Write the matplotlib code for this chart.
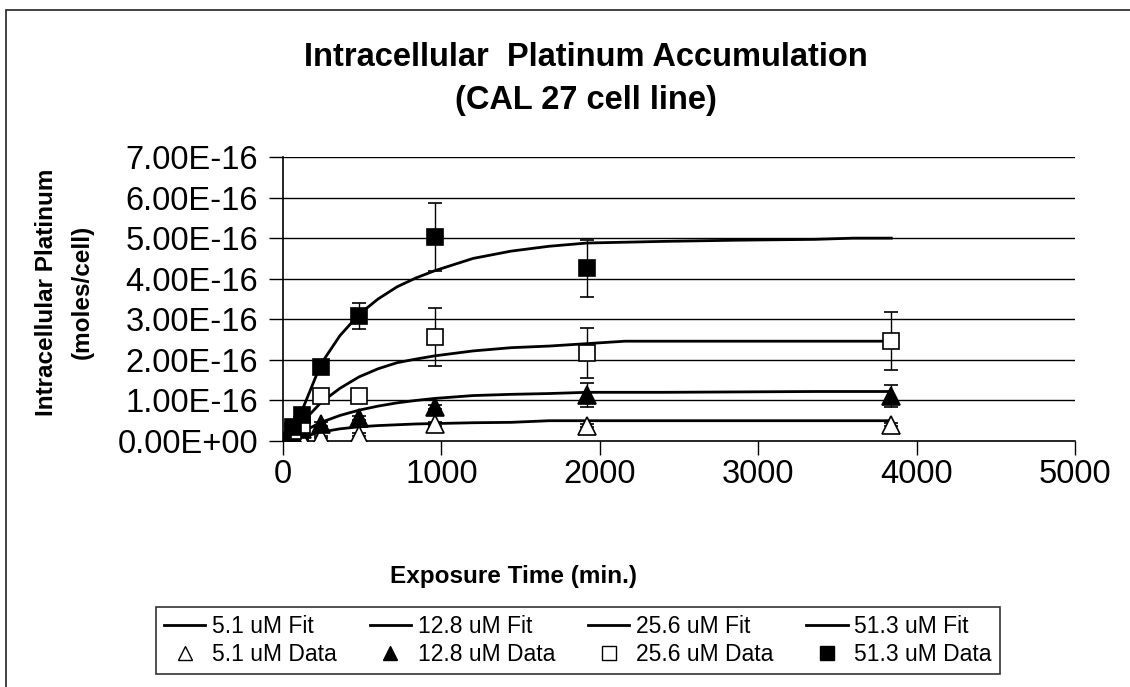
import matplotlib
matplotlib.use("Agg")
import matplotlib.pyplot as plt
from matplotlib.lines import Line2D
from matplotlib.patches import Rectangle

plt.rcParams['font.family'] = ['Liberation Sans', 'DejaVu Sans']

UNIT = 1e-16  # values below are in units of 1e-16 moles/cell

# Measured accumulation (mean and error) at each exposure time (min.)
t_data = [0, 60, 120, 240, 480, 960, 1920, 3840]
d_5_1 = [0, 0.02, 0.04, 0.10, 0.16, 0.42, 0.38, 0.40]
e_5_1 = [0, 0.01, 0.01, 0.02, 0.03, 0.04, 0.04, 0.04]
d_12_8 = [0, 0.15, 0.30, 0.42, 0.57, 0.83, 1.13, 1.10]
e_12_8 = [0, 0.02, 0.03, 0.04, 0.05, 0.05, 0.29, 0.27]
d_25_6 = [0, 0.25, 0.40, 1.10, 1.12, 2.57, 2.17, 2.46]
e_25_6 = [0, 0.03, 0.05, 0.10, 0.06, 0.72, 0.62, 0.71]
t_data_51 = [0, 60, 120, 240, 480, 960, 1920]
d_51_3 = [0, 0.35, 0.65, 1.82, 3.08, 5.02, 4.26]
e_51_3 = [0, 0.03, 0.05, 0.10, 0.32, 0.84, 0.70]

# Fitted uptake curves
t_fit = [0, 60, 120, 240, 360, 480, 600, 720, 840, 960, 1200, 1440, 1680,
         1920, 2160, 2400, 2880, 3360, 3600, 3840]
f_5_1 = [0, 0.05, 0.10, 0.22, 0.30, 0.35, 0.38, 0.40, 0.42, 0.43, 0.45,
         0.46, 0.50, 0.50, 0.50, 0.50, 0.50, 0.50, 0.50, 0.50]
f_12_8 = [0, 0.10, 0.22, 0.46, 0.63, 0.76, 0.86, 0.94, 1.00, 1.05, 1.12,
          1.15, 1.17, 1.20, 1.20, 1.20, 1.21, 1.22, 1.22, 1.22]
f_25_6 = [0, 0.20, 0.45, 0.95, 1.30, 1.58, 1.78, 1.93, 2.02, 2.10, 2.22,
          2.30, 2.34, 2.40, 2.46, 2.46, 2.46, 2.46, 2.46, 2.46]
f_51_3 = [0, 0.30, 0.75, 1.90, 2.60, 3.12, 3.50, 3.80, 4.02, 4.20, 4.50,
          4.68, 4.80, 4.88, 4.90, 4.92, 4.95, 4.97, 5.00, 5.00]

x_ticks = [0, 1000, 2000, 3000, 4000, 5000]
y_ticks = [0, 1, 2, 3, 4, 5, 6, 7]

W, H = 1130, 687
fig = plt.figure(figsize=(W / 100, H / 100), dpi=100)
fig.patch.set_facecolor('white')

# chart frame (top and left edges fall inside the image)
fig.add_artist(Rectangle((6 / W, -0.1), 1.2, 1 - 10 / H + 0.1,
                         transform=fig.transFigure, fill=False,
                         edgecolor='#222222', lw=1.2))

ax = fig.add_axes([283 / W, 1 - 441 / H, (1075 - 283) / W, (441 - 157) / H])
ax.set_xlim(0, 5000)
ax.set_ylim(0, 7 * UNIT)
ax.set_xticks(x_ticks)
ax.set_yticks([v * UNIT for v in y_ticks])
ax.set_yticklabels(['{:.2E}'.format(v * UNIT) for v in y_ticks])
ax.set_xticklabels([str(v) for v in x_ticks])
ax.tick_params(axis='both', direction='out', length=10, width=1,
               color='black', labelsize=23.5)
ax.tick_params(axis='y', pad=8)
ax.tick_params(axis='x', pad=3)
for s in ['top', 'right']:
    ax.spines[s].set_visible(False)
for s in ['left', 'bottom']:
    ax.spines[s].set_linewidth(1.2)
    ax.spines[s].set_color('black')
ax.set_axisbelow(True)
for v in y_ticks[1:]:
    ax.axhline(v * UNIT, color='black', lw=1, zorder=0)

fits = [f_5_1, f_12_8, f_25_6, f_51_3]
for f in fits:
    ax.plot(t_fit, [v * UNIT for v in f], color='black', lw=2, zorder=2,
            solid_joinstyle='round')

series = [
    (t_data, d_5_1, e_5_1, '^', 'white'),
    (t_data, d_12_8, e_12_8, '^', 'black'),
    (t_data, d_25_6, e_25_6, 's', 'white'),
    (t_data_51, d_51_3, e_51_3, 's', 'black'),
]
for t, d, e, m, fc in series:
    ax.errorbar(t, [v * UNIT for v in d], yerr=[v * UNIT for v in e],
                fmt=m, mfc=fc, mec='black', mew=1.2,
                ms=11.5 if m == 's' else 12.5,
                ecolor='black', elinewidth=1, capsize=5, capthick=1,
                zorder=3)

# titles
fig.text(586 / W, 1 - 57 / H, 'Intracellular  Platinum Accumulation',
         ha='center', va='center', fontsize=23.5, fontweight='bold')
fig.text(586 / W, 1 - 100 / H, '(CAL 27 cell line)',
         ha='center', va='center', fontsize=23.5, fontweight='bold')
fig.text(513 / W, 1 - 576 / H, 'Exposure Time (min.)',
         ha='center', va='center', fontsize=17.5, fontweight='bold')
fig.text(47 / W, 1 - 292 / H, 'Intracellular Platinum',
         ha='center', va='center', rotation=90, fontsize=17.5,
         fontweight='bold')
fig.text(82 / W, 1 - 292 / H, '(moles/cell)',
         ha='center', va='center', rotation=90, fontsize=17.5,
         fontweight='bold')

# legend: fits in the first row, data in the second
labels_fit = ['5.1 uM Fit', '12.8 uM Fit', '25.6 uM Fit', '51.3 uM Fit']
labels_data = ['5.1 uM Data', '12.8 uM Data', '25.6 uM Data', '51.3 uM Data']
handles, labels = [], []
for i in range(4):
    handles.append(Line2D([], [], color='black', lw=2))
    labels.append(labels_fit[i])
    m = series[i][3]
    fc = series[i][4]
    handles.append(Line2D([], [], ls='none', marker=m, mfc=fc, mec='black',
                          mew=1, ms=10))
    labels.append(labels_data[i])
leg = fig.legend(handles, labels, ncol=4, loc='center',
                 bbox_to_anchor=(156 / W, 1 - 675 / H, 844 / W, 69 / H),
                 mode='expand', fontsize=16.5, frameon=True, fancybox=False,
                 edgecolor='black', handlelength=1.8, handletextpad=0.3,
                 borderpad=0.35, labelspacing=0.22, borderaxespad=0)
leg.get_frame().set_linewidth(1.2)

fig.savefig('out.png', dpi=100, facecolor='white')
